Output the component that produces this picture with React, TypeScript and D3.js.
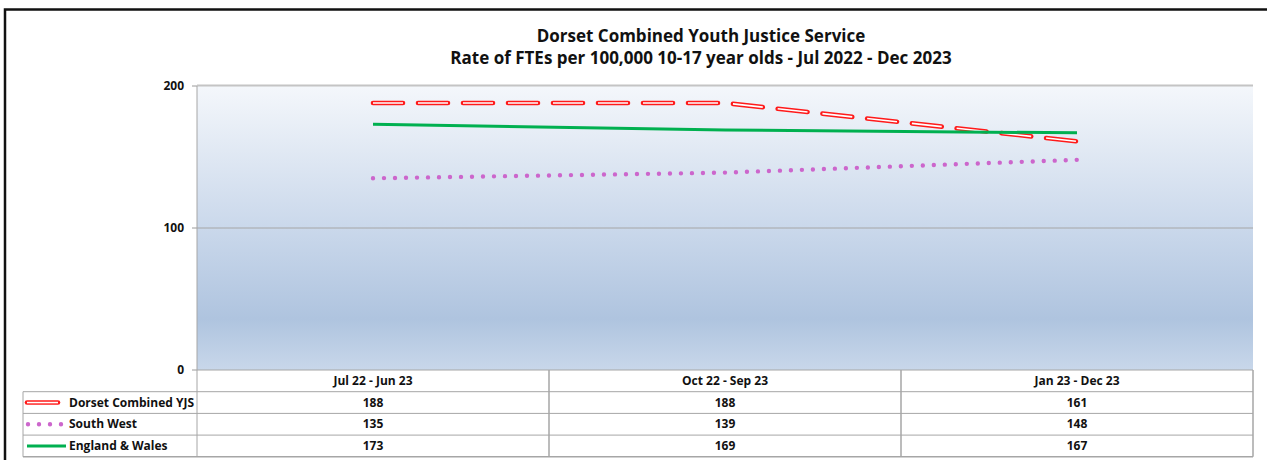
import React from "react";
import * as d3 from "d3";

const categories = ["Jul 22 - Jun 23", "Oct 22 - Sep 23", "Jan 23 - Dec 23"];
const seriesNames = ["Dorset Combined YJS", "South West", "England & Wales"];
const dorset = [188, 188, 161];
const southWest = [135, 139, 148];
const englandWales = [173, 169, 167];
const yTicks = [0, 100, 200];
const titleLines = [
  "Dorset Combined Youth Justice Service",
  "Rate of FTEs per 100,000 10-17 year olds - Jul 2022 - Dec 2023",
];

const W = 1267;
const H = 460;
const plotL = 197;
const plotR = 1253;
const plotT = 86;
const plotB = 370;
const rowH = 21.7;
const tableL = 23;
const FONT = "'Open Sans', 'Liberation Sans', sans-serif";

export default function App() {
  const x = d3.scaleBand<string>().domain(categories).range([plotL, plotR]).padding(0);
  const y = d3.scaleLinear().domain([0, 200]).range([plotB, plotT]);
  const cx = (c: string) => (x(c) as number) + x.bandwidth() / 2;
  const line = d3
    .line<number>()
    .x((_, i) => cx(categories[i]))
    .y((v) => y(v));

  const series = [
    { name: seriesNames[0], values: dorset, kind: "dash" },
    { name: seriesNames[1], values: southWest, kind: "dot" },
    { name: seriesNames[2], values: englandWales, kind: "solid" },
  ];

  const drawStroke = (d: string, kind: string, key: string) => {
    if (kind === "dash")
      return (
        <g key={key}>
          <path d={d} fill="none" stroke="#ff1a1a" strokeWidth={4.6} strokeDasharray="30 15" strokeLinecap="round" />
          <path d={d} fill="none" stroke="#ffffff" strokeWidth={1.6} strokeDasharray="30 15" strokeLinecap="butt" />
        </g>
      );
    if (kind === "dot")
      return (
        <path key={key} d={d} fill="none" stroke="#cc66cc" strokeWidth={4.4} strokeDasharray="0 11" strokeLinecap="round" />
      );
    return <path key={key} d={d} fill="none" stroke="#00b050" strokeWidth={3} />;
  };

  const tableBottom = plotB + rowH * 4;
  const grid = "#a6a6a6";

  return (
    <svg
      width={W}
      height={H}
      style={{ position: "absolute", left: 0, top: 0, fontFamily: FONT }}
    >
      <defs>
        <linearGradient id="bg" x1="0" y1="0" x2="0" y2="1">
          <stop offset="0%" stopColor="#f4f7fb" />
          <stop offset="50%" stopColor="#cad8eb" />
          <stop offset="82%" stopColor="#afc4df" />
          <stop offset="100%" stopColor="#c8d7ea" />
        </linearGradient>
      </defs>
      <rect x={0} y={0} width={W} height={H} fill="#ffffff" />
      <rect x={5} y={9.5} width={W + 10} height={H + 10} fill="none" stroke="#111" strokeWidth={2.5} />

      {titleLines.map((t, i) => (
        <text key={t} x={701} y={42 + i * 22} textAnchor="middle" fontSize={17} fontWeight="bold" fill="#111">
          {t}
        </text>
      ))}

      <rect x={plotL} y={plotT} width={plotR - plotL} height={plotB - plotT} fill="url(#bg)" />
      <line x1={plotL} x2={plotR} y1={plotT - 0.5} y2={plotT - 0.5} stroke="#c4c4c4" strokeWidth={2} />
      {yTicks.map((t) => (
        <g key={t}>
          {t === 100 && <line x1={plotL} x2={plotR} y1={y(t)} y2={y(t)} stroke="#a6a6a6" strokeWidth={1} />}
          <line x1={plotL - 5} x2={plotL} y1={y(t)} y2={y(t)} stroke="#9a9a9a" />
          <text x={184} y={y(t) + 4} textAnchor="end" fontSize={12} fontWeight="bold" fill="#111">
            {t}
          </text>
        </g>
      ))}
      <line x1={plotL} x2={plotL} y1={plotT} y2={tableBottom} stroke={grid} />

      {series.map((s, i) => drawStroke(line(s.values) as string, s.kind, "s" + i))}

      <line x1={plotL} x2={plotR} y1={plotB} y2={plotB} stroke={grid} />
      {[1, 2, 3, 4].map((r) => (
        <line key={r} x1={tableL} x2={plotR} y1={plotB + rowH * r} y2={plotB + rowH * r} stroke={grid} strokeWidth={r === 4 ? 1.5 : 1} />
      ))}
      <line x1={tableL} x2={tableL} y1={plotB + rowH} y2={tableBottom} stroke={grid} />
      {categories.map((c) => (
        <line key={c} x1={(x(c) as number) + x.bandwidth()} x2={(x(c) as number) + x.bandwidth()} y1={plotB} y2={tableBottom} stroke={grid} strokeWidth={1.5} />
      ))}
      {categories.map((c) => (
        <text key={c} x={cx(c)} y={plotB + 15} textAnchor="middle" fontSize={12} fontWeight="bold" fill="#111">
          {c}
        </text>
      ))}
      {series.map((s, r) => {
        const yy = plotB + rowH * (r + 1);
        const mid = yy + rowH / 2;
        const keyPath = `M${27},${mid}L${r === 2 ? 66 : 58},${mid}`;
        return (
          <g key={s.name}>
            {s.kind === "dash" ? (
              <g>
                <path d={keyPath} fill="none" stroke="#ff1a1a" strokeWidth={4.6} strokeLinecap="round" />
                <path d={keyPath} fill="none" stroke="#ffffff" strokeWidth={1.6} />
              </g>
            ) : s.kind === "dot" ? (
              <path d={`M${28},${mid}L${64},${mid}`} fill="none" stroke="#cc66cc" strokeWidth={4.4} strokeDasharray="0 11" strokeLinecap="round" />
            ) : (
              <path d={keyPath} fill="none" stroke="#00b050" strokeWidth={3} />
            )}
            <text x={69} y={mid + 4} fontSize={12} fontWeight="bold" fill="#111">
              {s.name}
            </text>
            {s.values.map((v, i) => (
              <text key={i} x={cx(categories[i])} y={mid + 4} textAnchor="middle" fontSize={12} fontWeight="bold" fill="#111">
                {v}
              </text>
            ))}
          </g>
        );
      })}
    </svg>
  );
}
